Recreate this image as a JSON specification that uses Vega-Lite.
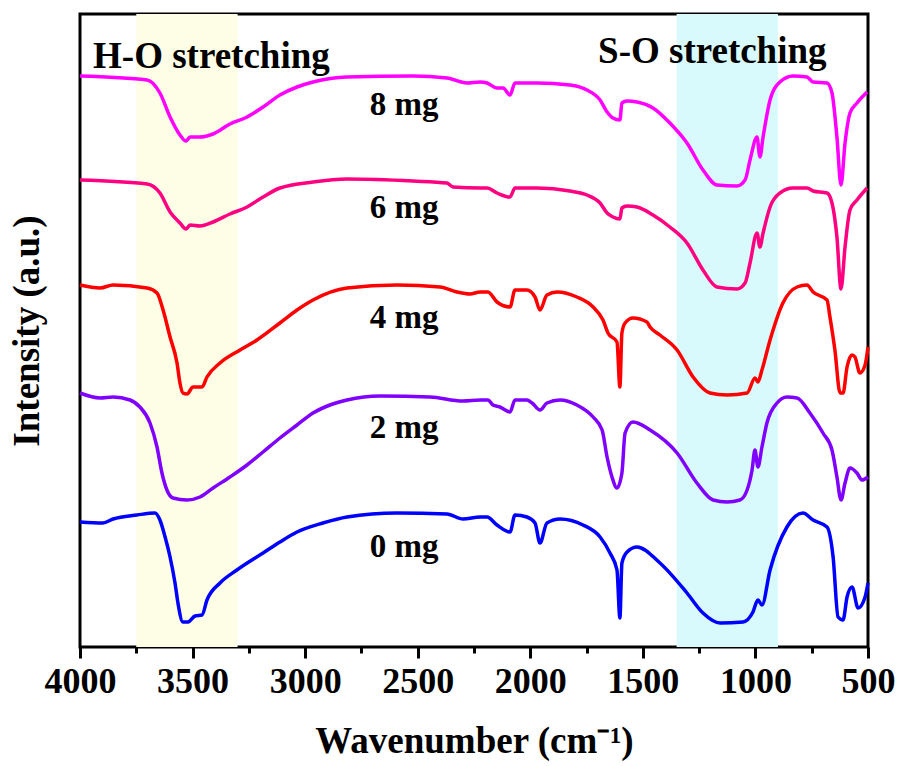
{
  "$schema": "https://vega.github.io/schema/vega-lite/v6.json",
  "width": 788,
  "height": 633,
  "autosize": "none",
  "padding": {"left": 80, "top": 14, "right": 32, "bottom": 119},
  "background": "white",
  "config": {
    "font": "Liberation Serif",
    "view": {"stroke": "black", "strokeWidth": 3},
    "axis": {"grid": false}
  },
  "datasets": {
    "spectra": [
      {"sample": "8 mg", "wavenumber": 4000, "intensity": 571},
      {"sample": "8 mg", "wavenumber": 3702, "intensity": 567},
      {"sample": "8 mg", "wavenumber": 3645, "intensity": 554},
      {"sample": "8 mg", "wavenumber": 3600, "intensity": 530},
      {"sample": "8 mg", "wavenumber": 3556, "intensity": 512},
      {"sample": "8 mg", "wavenumber": 3529, "intensity": 506},
      {"sample": "8 mg", "wavenumber": 3511, "intensity": 510},
      {"sample": "8 mg", "wavenumber": 3467, "intensity": 510},
      {"sample": "8 mg", "wavenumber": 3409, "intensity": 513},
      {"sample": "8 mg", "wavenumber": 3334, "intensity": 523},
      {"sample": "8 mg", "wavenumber": 3258, "intensity": 530},
      {"sample": "8 mg", "wavenumber": 3187, "intensity": 540},
      {"sample": "8 mg", "wavenumber": 3112, "intensity": 552},
      {"sample": "8 mg", "wavenumber": 3036, "intensity": 560},
      {"sample": "8 mg", "wavenumber": 2965, "intensity": 565},
      {"sample": "8 mg", "wavenumber": 2814, "intensity": 570},
      {"sample": "8 mg", "wavenumber": 2521, "intensity": 571},
      {"sample": "8 mg", "wavenumber": 2370, "intensity": 569},
      {"sample": "8 mg", "wavenumber": 2281, "intensity": 564},
      {"sample": "8 mg", "wavenumber": 2223, "intensity": 565},
      {"sample": "8 mg", "wavenumber": 2192, "intensity": 564},
      {"sample": "8 mg", "wavenumber": 2148, "intensity": 559},
      {"sample": "8 mg", "wavenumber": 2121, "intensity": 559},
      {"sample": "8 mg", "wavenumber": 2090, "intensity": 552},
      {"sample": "8 mg", "wavenumber": 2068, "intensity": 564},
      {"sample": "8 mg", "wavenumber": 1970, "intensity": 564},
      {"sample": "8 mg", "wavenumber": 1824, "intensity": 562},
      {"sample": "8 mg", "wavenumber": 1748, "intensity": 557},
      {"sample": "8 mg", "wavenumber": 1690, "intensity": 547},
      {"sample": "8 mg", "wavenumber": 1659, "intensity": 535},
      {"sample": "8 mg", "wavenumber": 1633, "intensity": 529},
      {"sample": "8 mg", "wavenumber": 1602, "intensity": 527},
      {"sample": "8 mg", "wavenumber": 1593, "intensity": 544},
      {"sample": "8 mg", "wavenumber": 1570, "intensity": 546},
      {"sample": "8 mg", "wavenumber": 1526, "intensity": 545},
      {"sample": "8 mg", "wavenumber": 1455, "intensity": 539},
      {"sample": "8 mg", "wavenumber": 1380, "intensity": 524},
      {"sample": "8 mg", "wavenumber": 1304, "intensity": 504},
      {"sample": "8 mg", "wavenumber": 1233, "intensity": 477},
      {"sample": "8 mg", "wavenumber": 1171, "intensity": 462},
      {"sample": "8 mg", "wavenumber": 1082, "intensity": 461},
      {"sample": "8 mg", "wavenumber": 1046, "intensity": 467},
      {"sample": "8 mg", "wavenumber": 1024, "intensity": 487},
      {"sample": "8 mg", "wavenumber": 993, "intensity": 510},
      {"sample": "8 mg", "wavenumber": 980, "intensity": 490},
      {"sample": "8 mg", "wavenumber": 966, "intensity": 510},
      {"sample": "8 mg", "wavenumber": 935, "intensity": 547},
      {"sample": "8 mg", "wavenumber": 891, "intensity": 565},
      {"sample": "8 mg", "wavenumber": 833, "intensity": 571},
      {"sample": "8 mg", "wavenumber": 771, "intensity": 570},
      {"sample": "8 mg", "wavenumber": 744, "intensity": 565},
      {"sample": "8 mg", "wavenumber": 682, "intensity": 564},
      {"sample": "8 mg", "wavenumber": 660, "intensity": 554},
      {"sample": "8 mg", "wavenumber": 638, "intensity": 510},
      {"sample": "8 mg", "wavenumber": 620, "intensity": 462},
      {"sample": "8 mg", "wavenumber": 602, "intensity": 504},
      {"sample": "8 mg", "wavenumber": 580, "intensity": 534},
      {"sample": "8 mg", "wavenumber": 549, "intensity": 544},
      {"sample": "8 mg", "wavenumber": 504, "intensity": 555},

      {"sample": "6 mg", "wavenumber": 4000, "intensity": 467},
      {"sample": "6 mg", "wavenumber": 3702, "intensity": 463},
      {"sample": "6 mg", "wavenumber": 3645, "intensity": 454},
      {"sample": "6 mg", "wavenumber": 3600, "intensity": 435},
      {"sample": "6 mg", "wavenumber": 3556, "intensity": 424},
      {"sample": "6 mg", "wavenumber": 3529, "intensity": 418},
      {"sample": "6 mg", "wavenumber": 3511, "intensity": 422},
      {"sample": "6 mg", "wavenumber": 3467, "intensity": 421},
      {"sample": "6 mg", "wavenumber": 3409, "intensity": 425},
      {"sample": "6 mg", "wavenumber": 3334, "intensity": 433},
      {"sample": "6 mg", "wavenumber": 3258, "intensity": 440},
      {"sample": "6 mg", "wavenumber": 3187, "intensity": 450},
      {"sample": "6 mg", "wavenumber": 3112, "intensity": 459},
      {"sample": "6 mg", "wavenumber": 2965, "intensity": 465},
      {"sample": "6 mg", "wavenumber": 2814, "intensity": 468},
      {"sample": "6 mg", "wavenumber": 2521, "intensity": 466},
      {"sample": "6 mg", "wavenumber": 2370, "intensity": 464},
      {"sample": "6 mg", "wavenumber": 2343, "intensity": 460},
      {"sample": "6 mg", "wavenumber": 2223, "intensity": 459},
      {"sample": "6 mg", "wavenumber": 2192, "intensity": 459},
      {"sample": "6 mg", "wavenumber": 2148, "intensity": 454},
      {"sample": "6 mg", "wavenumber": 2090, "intensity": 450},
      {"sample": "6 mg", "wavenumber": 2068, "intensity": 459},
      {"sample": "6 mg", "wavenumber": 1970, "intensity": 459},
      {"sample": "6 mg", "wavenumber": 1824, "intensity": 456},
      {"sample": "6 mg", "wavenumber": 1748, "intensity": 452},
      {"sample": "6 mg", "wavenumber": 1690, "intensity": 444},
      {"sample": "6 mg", "wavenumber": 1659, "intensity": 434},
      {"sample": "6 mg", "wavenumber": 1633, "intensity": 430},
      {"sample": "6 mg", "wavenumber": 1602, "intensity": 428},
      {"sample": "6 mg", "wavenumber": 1593, "intensity": 439},
      {"sample": "6 mg", "wavenumber": 1570, "intensity": 441},
      {"sample": "6 mg", "wavenumber": 1526, "intensity": 440},
      {"sample": "6 mg", "wavenumber": 1455, "intensity": 432},
      {"sample": "6 mg", "wavenumber": 1380, "intensity": 420},
      {"sample": "6 mg", "wavenumber": 1304, "intensity": 404},
      {"sample": "6 mg", "wavenumber": 1233, "intensity": 377},
      {"sample": "6 mg", "wavenumber": 1171, "intensity": 360},
      {"sample": "6 mg", "wavenumber": 1082, "intensity": 358},
      {"sample": "6 mg", "wavenumber": 1046, "intensity": 364},
      {"sample": "6 mg", "wavenumber": 1024, "intensity": 384},
      {"sample": "6 mg", "wavenumber": 993, "intensity": 414},
      {"sample": "6 mg", "wavenumber": 980, "intensity": 400},
      {"sample": "6 mg", "wavenumber": 966, "intensity": 414},
      {"sample": "6 mg", "wavenumber": 935, "intensity": 440},
      {"sample": "6 mg", "wavenumber": 891, "intensity": 454},
      {"sample": "6 mg", "wavenumber": 833, "intensity": 459},
      {"sample": "6 mg", "wavenumber": 771, "intensity": 459},
      {"sample": "6 mg", "wavenumber": 744, "intensity": 456},
      {"sample": "6 mg", "wavenumber": 682, "intensity": 454},
      {"sample": "6 mg", "wavenumber": 660, "intensity": 444},
      {"sample": "6 mg", "wavenumber": 638, "intensity": 410},
      {"sample": "6 mg", "wavenumber": 620, "intensity": 358},
      {"sample": "6 mg", "wavenumber": 602, "intensity": 400},
      {"sample": "6 mg", "wavenumber": 580, "intensity": 437},
      {"sample": "6 mg", "wavenumber": 549, "intensity": 447},
      {"sample": "6 mg", "wavenumber": 504, "intensity": 459},

      {"sample": "4 mg", "wavenumber": 4000, "intensity": 362},
      {"sample": "4 mg", "wavenumber": 3911, "intensity": 359},
      {"sample": "4 mg", "wavenumber": 3853, "intensity": 362},
      {"sample": "4 mg", "wavenumber": 3702, "intensity": 359},
      {"sample": "4 mg", "wavenumber": 3658, "intensity": 354},
      {"sample": "4 mg", "wavenumber": 3631, "intensity": 337},
      {"sample": "4 mg", "wavenumber": 3600, "intensity": 310},
      {"sample": "4 mg", "wavenumber": 3569, "intensity": 284},
      {"sample": "4 mg", "wavenumber": 3556, "intensity": 264},
      {"sample": "4 mg", "wavenumber": 3543, "intensity": 254},
      {"sample": "4 mg", "wavenumber": 3525, "intensity": 253},
      {"sample": "4 mg", "wavenumber": 3498, "intensity": 260},
      {"sample": "4 mg", "wavenumber": 3458, "intensity": 260},
      {"sample": "4 mg", "wavenumber": 3436, "intensity": 270},
      {"sample": "4 mg", "wavenumber": 3378, "intensity": 284},
      {"sample": "4 mg", "wavenumber": 3289, "intensity": 297},
      {"sample": "4 mg", "wavenumber": 3214, "intensity": 307},
      {"sample": "4 mg", "wavenumber": 3112, "intensity": 324},
      {"sample": "4 mg", "wavenumber": 3036, "intensity": 337},
      {"sample": "4 mg", "wavenumber": 2965, "intensity": 347},
      {"sample": "4 mg", "wavenumber": 2814, "intensity": 359},
      {"sample": "4 mg", "wavenumber": 2592, "intensity": 362},
      {"sample": "4 mg", "wavenumber": 2401, "intensity": 360},
      {"sample": "4 mg", "wavenumber": 2326, "intensity": 355},
      {"sample": "4 mg", "wavenumber": 2268, "intensity": 353},
      {"sample": "4 mg", "wavenumber": 2223, "intensity": 355},
      {"sample": "4 mg", "wavenumber": 2188, "intensity": 355},
      {"sample": "4 mg", "wavenumber": 2148, "intensity": 345},
      {"sample": "4 mg", "wavenumber": 2090, "intensity": 340},
      {"sample": "4 mg", "wavenumber": 2068, "intensity": 357},
      {"sample": "4 mg", "wavenumber": 2015, "intensity": 357},
      {"sample": "4 mg", "wavenumber": 1979, "intensity": 350},
      {"sample": "4 mg", "wavenumber": 1957, "intensity": 337},
      {"sample": "4 mg", "wavenumber": 1926, "intensity": 352},
      {"sample": "4 mg", "wavenumber": 1881, "intensity": 355},
      {"sample": "4 mg", "wavenumber": 1793, "intensity": 350},
      {"sample": "4 mg", "wavenumber": 1721, "intensity": 340},
      {"sample": "4 mg", "wavenumber": 1677, "intensity": 327},
      {"sample": "4 mg", "wavenumber": 1655, "intensity": 314},
      {"sample": "4 mg", "wavenumber": 1615, "intensity": 305},
      {"sample": "4 mg", "wavenumber": 1602, "intensity": 260},
      {"sample": "4 mg", "wavenumber": 1593, "intensity": 314},
      {"sample": "4 mg", "wavenumber": 1579, "intensity": 324},
      {"sample": "4 mg", "wavenumber": 1544, "intensity": 329},
      {"sample": "4 mg", "wavenumber": 1482, "intensity": 325},
      {"sample": "4 mg", "wavenumber": 1468, "intensity": 320},
      {"sample": "4 mg", "wavenumber": 1424, "intensity": 312},
      {"sample": "4 mg", "wavenumber": 1348, "intensity": 297},
      {"sample": "4 mg", "wavenumber": 1277, "intensity": 270},
      {"sample": "4 mg", "wavenumber": 1202, "intensity": 254},
      {"sample": "4 mg", "wavenumber": 1126, "intensity": 252},
      {"sample": "4 mg", "wavenumber": 1037, "intensity": 254},
      {"sample": "4 mg", "wavenumber": 1002, "intensity": 269},
      {"sample": "4 mg", "wavenumber": 989, "intensity": 265},
      {"sample": "4 mg", "wavenumber": 971, "intensity": 277},
      {"sample": "4 mg", "wavenumber": 935, "intensity": 307},
      {"sample": "4 mg", "wavenumber": 878, "intensity": 344},
      {"sample": "4 mg", "wavenumber": 815, "intensity": 360},
      {"sample": "4 mg", "wavenumber": 771, "intensity": 362},
      {"sample": "4 mg", "wavenumber": 744, "intensity": 355},
      {"sample": "4 mg", "wavenumber": 682, "intensity": 347},
      {"sample": "4 mg", "wavenumber": 669, "intensity": 330},
      {"sample": "4 mg", "wavenumber": 647, "intensity": 297},
      {"sample": "4 mg", "wavenumber": 624, "intensity": 254},
      {"sample": "4 mg", "wavenumber": 611, "intensity": 254},
      {"sample": "4 mg", "wavenumber": 593, "intensity": 280},
      {"sample": "4 mg", "wavenumber": 571, "intensity": 292},
      {"sample": "4 mg", "wavenumber": 558, "intensity": 290},
      {"sample": "4 mg", "wavenumber": 536, "intensity": 274},
      {"sample": "4 mg", "wavenumber": 513, "intensity": 282},
      {"sample": "4 mg", "wavenumber": 500, "intensity": 300},

      {"sample": "2 mg", "wavenumber": 4000, "intensity": 254},
      {"sample": "2 mg", "wavenumber": 3911, "intensity": 249},
      {"sample": "2 mg", "wavenumber": 3853, "intensity": 250},
      {"sample": "2 mg", "wavenumber": 3778, "intensity": 247},
      {"sample": "2 mg", "wavenumber": 3734, "intensity": 240},
      {"sample": "2 mg", "wavenumber": 3689, "intensity": 224},
      {"sample": "2 mg", "wavenumber": 3658, "intensity": 200},
      {"sample": "2 mg", "wavenumber": 3636, "intensity": 174},
      {"sample": "2 mg", "wavenumber": 3614, "intensity": 157},
      {"sample": "2 mg", "wavenumber": 3587, "intensity": 149},
      {"sample": "2 mg", "wavenumber": 3525, "intensity": 147},
      {"sample": "2 mg", "wavenumber": 3467, "intensity": 150},
      {"sample": "2 mg", "wavenumber": 3409, "intensity": 159},
      {"sample": "2 mg", "wavenumber": 3334, "intensity": 170},
      {"sample": "2 mg", "wavenumber": 3258, "intensity": 182},
      {"sample": "2 mg", "wavenumber": 3187, "intensity": 195},
      {"sample": "2 mg", "wavenumber": 3112, "intensity": 209},
      {"sample": "2 mg", "wavenumber": 3036, "intensity": 222},
      {"sample": "2 mg", "wavenumber": 2965, "intensity": 234},
      {"sample": "2 mg", "wavenumber": 2890, "intensity": 242},
      {"sample": "2 mg", "wavenumber": 2814, "intensity": 247},
      {"sample": "2 mg", "wavenumber": 2667, "intensity": 251},
      {"sample": "2 mg", "wavenumber": 2445, "intensity": 250},
      {"sample": "2 mg", "wavenumber": 2299, "intensity": 246},
      {"sample": "2 mg", "wavenumber": 2223, "intensity": 247},
      {"sample": "2 mg", "wavenumber": 2188, "intensity": 247},
      {"sample": "2 mg", "wavenumber": 2166, "intensity": 242},
      {"sample": "2 mg", "wavenumber": 2135, "intensity": 240},
      {"sample": "2 mg", "wavenumber": 2090, "intensity": 235},
      {"sample": "2 mg", "wavenumber": 2068, "intensity": 247},
      {"sample": "2 mg", "wavenumber": 2015, "intensity": 247},
      {"sample": "2 mg", "wavenumber": 1992, "intensity": 244},
      {"sample": "2 mg", "wavenumber": 1957, "intensity": 237},
      {"sample": "2 mg", "wavenumber": 1926, "intensity": 244},
      {"sample": "2 mg", "wavenumber": 1868, "intensity": 247},
      {"sample": "2 mg", "wavenumber": 1793, "intensity": 242},
      {"sample": "2 mg", "wavenumber": 1721, "intensity": 230},
      {"sample": "2 mg", "wavenumber": 1681, "intensity": 217},
      {"sample": "2 mg", "wavenumber": 1659, "intensity": 190},
      {"sample": "2 mg", "wavenumber": 1637, "intensity": 170},
      {"sample": "2 mg", "wavenumber": 1615, "intensity": 159},
      {"sample": "2 mg", "wavenumber": 1593, "intensity": 174},
      {"sample": "2 mg", "wavenumber": 1579, "intensity": 214},
      {"sample": "2 mg", "wavenumber": 1544, "intensity": 225},
      {"sample": "2 mg", "wavenumber": 1468, "intensity": 217},
      {"sample": "2 mg", "wavenumber": 1348, "intensity": 194},
      {"sample": "2 mg", "wavenumber": 1260, "intensity": 164},
      {"sample": "2 mg", "wavenumber": 1188, "intensity": 147},
      {"sample": "2 mg", "wavenumber": 1126, "intensity": 145},
      {"sample": "2 mg", "wavenumber": 1069, "intensity": 147},
      {"sample": "2 mg", "wavenumber": 1037, "intensity": 157},
      {"sample": "2 mg", "wavenumber": 1015, "intensity": 177},
      {"sample": "2 mg", "wavenumber": 1002, "intensity": 197},
      {"sample": "2 mg", "wavenumber": 989, "intensity": 180},
      {"sample": "2 mg", "wavenumber": 971, "intensity": 200},
      {"sample": "2 mg", "wavenumber": 949, "intensity": 224},
      {"sample": "2 mg", "wavenumber": 904, "intensity": 244},
      {"sample": "2 mg", "wavenumber": 860, "intensity": 250},
      {"sample": "2 mg", "wavenumber": 815, "intensity": 249},
      {"sample": "2 mg", "wavenumber": 758, "intensity": 234},
      {"sample": "2 mg", "wavenumber": 700, "intensity": 214},
      {"sample": "2 mg", "wavenumber": 660, "intensity": 197},
      {"sample": "2 mg", "wavenumber": 638, "intensity": 170},
      {"sample": "2 mg", "wavenumber": 620, "intensity": 147},
      {"sample": "2 mg", "wavenumber": 602, "intensity": 164},
      {"sample": "2 mg", "wavenumber": 580, "intensity": 179},
      {"sample": "2 mg", "wavenumber": 549, "intensity": 174},
      {"sample": "2 mg", "wavenumber": 527, "intensity": 167},
      {"sample": "2 mg", "wavenumber": 500, "intensity": 170},

      {"sample": "0 mg", "wavenumber": 4000, "intensity": 125},
      {"sample": "0 mg", "wavenumber": 3898, "intensity": 124},
      {"sample": "0 mg", "wavenumber": 3853, "intensity": 128},
      {"sample": "0 mg", "wavenumber": 3747, "intensity": 132},
      {"sample": "0 mg", "wavenumber": 3667, "intensity": 134},
      {"sample": "0 mg", "wavenumber": 3645, "intensity": 127},
      {"sample": "0 mg", "wavenumber": 3622, "intensity": 110},
      {"sample": "0 mg", "wavenumber": 3600, "intensity": 90},
      {"sample": "0 mg", "wavenumber": 3578, "intensity": 64},
      {"sample": "0 mg", "wavenumber": 3565, "intensity": 44},
      {"sample": "0 mg", "wavenumber": 3543, "intensity": 25},
      {"sample": "0 mg", "wavenumber": 3520, "intensity": 25},
      {"sample": "0 mg", "wavenumber": 3489, "intensity": 31},
      {"sample": "0 mg", "wavenumber": 3458, "intensity": 32},
      {"sample": "0 mg", "wavenumber": 3436, "intensity": 47},
      {"sample": "0 mg", "wavenumber": 3378, "intensity": 64},
      {"sample": "0 mg", "wavenumber": 3303, "intensity": 77},
      {"sample": "0 mg", "wavenumber": 3187, "intensity": 94},
      {"sample": "0 mg", "wavenumber": 3112, "intensity": 105},
      {"sample": "0 mg", "wavenumber": 3036, "intensity": 115},
      {"sample": "0 mg", "wavenumber": 2921, "intensity": 124},
      {"sample": "0 mg", "wavenumber": 2814, "intensity": 130},
      {"sample": "0 mg", "wavenumber": 2592, "intensity": 134},
      {"sample": "0 mg", "wavenumber": 2370, "intensity": 133},
      {"sample": "0 mg", "wavenumber": 2299, "intensity": 128},
      {"sample": "0 mg", "wavenumber": 2223, "intensity": 130},
      {"sample": "0 mg", "wavenumber": 2192, "intensity": 130},
      {"sample": "0 mg", "wavenumber": 2148, "intensity": 122},
      {"sample": "0 mg", "wavenumber": 2090, "intensity": 115},
      {"sample": "0 mg", "wavenumber": 2068, "intensity": 132},
      {"sample": "0 mg", "wavenumber": 2015, "intensity": 130},
      {"sample": "0 mg", "wavenumber": 1979, "intensity": 124},
      {"sample": "0 mg", "wavenumber": 1957, "intensity": 104},
      {"sample": "0 mg", "wavenumber": 1926, "intensity": 124},
      {"sample": "0 mg", "wavenumber": 1868, "intensity": 128},
      {"sample": "0 mg", "wavenumber": 1766, "intensity": 122},
      {"sample": "0 mg", "wavenumber": 1690, "intensity": 110},
      {"sample": "0 mg", "wavenumber": 1646, "intensity": 94},
      {"sample": "0 mg", "wavenumber": 1615, "intensity": 77},
      {"sample": "0 mg", "wavenumber": 1602, "intensity": 29},
      {"sample": "0 mg", "wavenumber": 1593, "intensity": 84},
      {"sample": "0 mg", "wavenumber": 1570, "intensity": 95},
      {"sample": "0 mg", "wavenumber": 1526, "intensity": 100},
      {"sample": "0 mg", "wavenumber": 1424, "intensity": 84},
      {"sample": "0 mg", "wavenumber": 1304, "intensity": 54},
      {"sample": "0 mg", "wavenumber": 1233, "intensity": 34},
      {"sample": "0 mg", "wavenumber": 1157, "intensity": 24},
      {"sample": "0 mg", "wavenumber": 1055, "intensity": 25},
      {"sample": "0 mg", "wavenumber": 1011, "intensity": 35},
      {"sample": "0 mg", "wavenumber": 989, "intensity": 47},
      {"sample": "0 mg", "wavenumber": 971, "intensity": 42},
      {"sample": "0 mg", "wavenumber": 935, "intensity": 77},
      {"sample": "0 mg", "wavenumber": 860, "intensity": 120},
      {"sample": "0 mg", "wavenumber": 789, "intensity": 134},
      {"sample": "0 mg", "wavenumber": 744, "intensity": 127},
      {"sample": "0 mg", "wavenumber": 682, "intensity": 120},
      {"sample": "0 mg", "wavenumber": 655, "intensity": 90},
      {"sample": "0 mg", "wavenumber": 633, "intensity": 30},
      {"sample": "0 mg", "wavenumber": 611, "intensity": 27},
      {"sample": "0 mg", "wavenumber": 593, "intensity": 50},
      {"sample": "0 mg", "wavenumber": 571, "intensity": 60},
      {"sample": "0 mg", "wavenumber": 544, "intensity": 39},
      {"sample": "0 mg", "wavenumber": 513, "intensity": 50},
      {"sample": "0 mg", "wavenumber": 500, "intensity": 64}
    ]
  },
  "layer": [
    {
      "data": {"values": [{"band": "H-O", "from": 3750, "to": 3300}]},
      "mark": {"type": "rect", "color": "#FEFEE6"},
      "encoding": {
        "x": {"field": "from", "type": "quantitative"},
        "x2": {"field": "to"}
      }
    },
    {
      "data": {"values": [{"band": "S-O", "from": 1350, "to": 900}]},
      "mark": {"type": "rect", "color": "#D9FAFC"},
      "encoding": {
        "x": {"field": "from", "type": "quantitative"},
        "x2": {"field": "to"}
      }
    },
    {
      "data": {"name": "spectra"},
      "mark": {"type": "line", "strokeWidth": 3.5, "strokeJoin": "round", "interpolate": "monotone"},
      "encoding": {
        "x": {
          "field": "wavenumber",
          "type": "quantitative",
          "scale": {"domain": [500, 4000], "reverse": true, "nice": false, "zero": false},
          "axis": {
            "title": "Wavenumber (cm⁻¹)",
            "titleFont": "Liberation Serif",
            "titleFontSize": 37,
            "titleFontWeight": "bold",
            "titleColor": "black",
            "titlePadding": 24,
            "values": [4000, 3750, 3500, 3250, 3000, 2750, 2500, 2250, 2000, 1750, 1500, 1250, 1000, 750, 500],
            "labelExpr": "datum.value % 500 === 0 ? format(datum.value, 'd') : ''",
            "labelFont": "Liberation Serif",
            "labelFontSize": 36,
            "labelFontWeight": "bold",
            "labelColor": "black",
            "labelPadding": 6,
            "labelOverlap": false,
            "labelFlush": false,
            "domain": false,
            "ticks": true,
            "tickColor": "black",
            "tickWidth": 3,
            "tickSize": {"condition": {"test": "datum.value % 500 === 0", "value": 11}, "value": 6}
          }
        },
        "y": {
          "field": "intensity",
          "type": "quantitative",
          "scale": {"domain": [0, 633], "nice": false, "zero": false},
          "axis": {
            "title": "Intensity (a.u.)",
            "titleFont": "Liberation Serif",
            "titleFontSize": 37,
            "titleFontWeight": "bold",
            "titleColor": "black",
            "titlePadding": 34,
            "labels": false,
            "ticks": false,
            "domain": false
          }
        },
        "color": {
          "field": "sample",
          "type": "nominal",
          "scale": {
            "domain": ["8 mg", "6 mg", "4 mg", "2 mg", "0 mg"],
            "range": ["#FF00FF", "#FF0080", "#FF0000", "#8000FF", "#0000FF"]
          },
          "legend": null
        }
      }
    },
    {
      "data": {"values": [
        {"label": "8 mg", "wavenumber": 2560, "intensity": 532},
        {"label": "6 mg", "wavenumber": 2560, "intensity": 429},
        {"label": "4 mg", "wavenumber": 2560, "intensity": 319},
        {"label": "2 mg", "wavenumber": 2560, "intensity": 209},
        {"label": "0 mg", "wavenumber": 2560, "intensity": 90}
      ]},
      "mark": {"type": "text", "font": "Liberation Serif", "fontSize": 33, "fontWeight": "bold", "color": "black", "align": "center", "baseline": "alphabetic"},
      "encoding": {
        "x": {"field": "wavenumber", "type": "quantitative"},
        "y": {"field": "intensity", "type": "quantitative"},
        "text": {"field": "label"}
      }
    },
    {
      "data": {"values": [
        {"label": "H-O stretching", "wavenumber": 3942, "intensity": 579},
        {"label": "S-O stretching", "wavenumber": 1699, "intensity": 584}
      ]},
      "mark": {"type": "text", "font": "Liberation Serif", "fontSize": 37, "fontWeight": "bold", "color": "black", "align": "left", "baseline": "alphabetic"},
      "encoding": {
        "x": {"field": "wavenumber", "type": "quantitative"},
        "y": {"field": "intensity", "type": "quantitative"},
        "text": {"field": "label"}
      }
    }
  ]
}
